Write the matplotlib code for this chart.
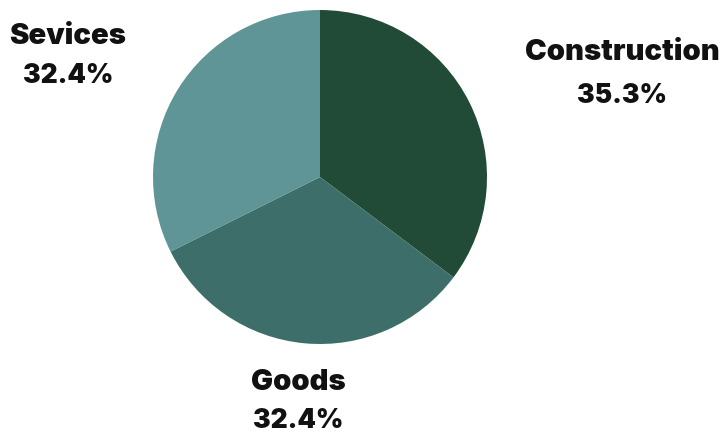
import matplotlib.pyplot as plt

labels = ['Construction', 'Goods', 'Sevices']
values = [35.3, 32.4, 32.4]
colors = ['#224b37', '#3d6e6a', '#5f9597']

W, H = 726, 435
fig = plt.figure(figsize=(W/100, H/100), dpi=100)
cx, cy, r = 320, 178, 167
ax = fig.add_axes([(cx-r)/W, (H-cy-r)/H, 2*r/W, 2*r/H])
ax.pie(values, colors=colors, startangle=90, counterclock=False,
       wedgeprops=dict(linewidth=0))
ax.set_xlim(-1, 1)
ax.set_ylim(-1, 1)
ax.axis('off')

# label positions in pixels (name line, percent line)
pos = [(622, 53, 96), (298, 383, 421), (68, 37, 76)]
for lab, v, (x, y1, y2) in zip(labels, values, pos):
    fig.text(x/W, 1-y1/H, lab, ha='center', va='center', fontsize=21,
             fontweight='black', family=['Inter', 'DejaVu Sans'], color='#111111')
    fig.text(x/W, 1-y2/H, '{:.1f}%'.format(v), ha='center', va='center', fontsize=19,
             fontweight='black', family=['Inter', 'DejaVu Sans'], color='#111111')

fig.savefig('out.png', dpi=100)
